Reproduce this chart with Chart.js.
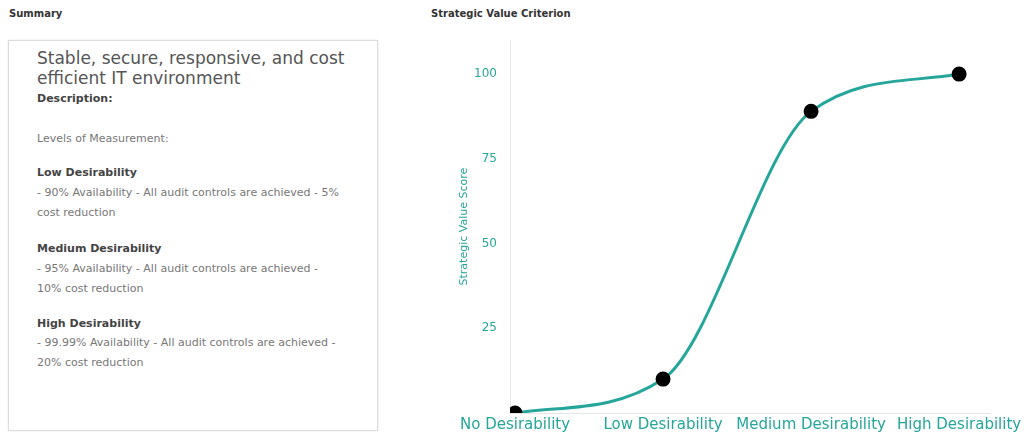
<!DOCTYPE html>
<html>
<head>
<meta charset="utf-8">
<script src="https://cdn.jsdelivr.net/npm/chart.js@4/dist/chart.umd.min.js"></script>
<style>
  html, body { margin: 0; padding: 0; background: #fff; }
  body { width: 1026px; height: 432px; position: relative; overflow: hidden; font-family: "DejaVu Sans", sans-serif; color: #444; }
  .heading { position: absolute; top: 7px; font-size: 10px; line-height: 14px; font-weight: 700; color: #333; white-space: nowrap; }
  .card { position: absolute; left: 8px; top: 40px; width: 370px; height: 391px; border: 1px solid #ddd; box-shadow: 0 0 2px rgba(0,0,0,0.10); box-sizing: border-box; }
  .t { position: absolute; left: 37px; white-space: nowrap; margin: 0; }
  .title { font-size: 17px; line-height: 20px; font-weight: 400; color: #555; }
  .lbl { font-size: 11px; line-height: 16px; font-weight: 700; color: #444; }
  .txt { font-size: 11px; line-height: 19.5px; color: #777; }
  #chartBox { position: absolute; left: 454px; top: 20px; width: 572px; height: 420px; }
</style>
</head>
<body>
<div class="heading" style="left:9px">Summary</div>
<div class="card"></div>
<div class="t title" style="top:48px">Stable, secure, responsive, and cost<br>efficient IT environment</div>
<div class="t lbl" style="top:91px">Description:</div>
<div class="t txt" style="top:129px">Levels of Measurement:</div>
<div class="t lbl" style="top:165px">Low Desirability</div>
<div class="t txt" style="top:183px">- 90% Availability - All audit controls are achieved - 5%<br>cost reduction</div>
<div class="t lbl" style="top:241px">Medium Desirability</div>
<div class="t txt" style="top:259px">- 95% Availability - All audit controls are achieved -<br>10% cost reduction</div>
<div class="t lbl" style="top:316px">High Desirability</div>
<div class="t txt" style="top:333px">- 99.99% Availability - All audit controls are achieved -<br>20% cost reduction</div>
<div class="heading" style="left:431px">Strategic Value Criterion</div>
<div id="chartBox"><canvas id="chart"></canvas></div>
<script>
// Desirability levels and their strategic value scores
const categories = ['No Desirability', 'Low Desirability', 'Medium Desirability', 'High Desirability'];
const scores = [0, 10, 89, 100];
const yTicksShown = [25, 50, 75, 100];

const teal = '#26a69a';
const font = 'DejaVu Sans';

new Chart(document.getElementById('chart'), {
  type: 'line',
  data: {
    datasets: [{
      label: 'Strategic Value Score',
      data: categories.map((c, i) => ({ x: i, y: scores[i] })),
      borderColor: teal,
      borderWidth: 3,
      pointBackgroundColor: '#000',
      pointBorderColor: '#000',
      pointRadius: 6,
      cubicInterpolationMode: 'monotone',
      fill: false
    }]
  },
  options: {
    responsive: true,
    maintainAspectRatio: false,
    animation: false,
    layout: { padding: { top: 0, right: 28, bottom: 0, left: 0 } },
    plugins: { legend: { display: false }, tooltip: { enabled: false } },
    scales: {
      x: {
        type: 'linear',
        min: -0.034,
        max: 3.21,
        grid: { display: false, drawTicks: false },
        border: { display: true, color: '#e6e6e6' },
        afterBuildTicks: s => { s.ticks = categories.map((c, i) => ({ value: i })); },
        afterFit: s => { s.height = 27; },
        ticks: {
          autoSkip: false, maxRotation: 0, padding: 3,
          color: teal, font: { family: font, size: 15 },
          callback: v => categories[v] ?? ''
        }
      },
      y: {
        min: 0,
        max: 110,
        grid: { display: false, drawTicks: false },
        border: { display: true, color: '#e6e6e6' },
        afterBuildTicks: s => { s.ticks = yTicksShown.map(v => ({ value: v })); },
        afterFit: s => { s.width = 56; },
        title: { display: true, text: 'Strategic Value Score', color: teal, font: { family: font, size: 11 } },
        ticks: { color: teal, padding: 13, font: { family: font, size: 12 } }
      }
    }
  }
});
</script>
</body>
</html>
